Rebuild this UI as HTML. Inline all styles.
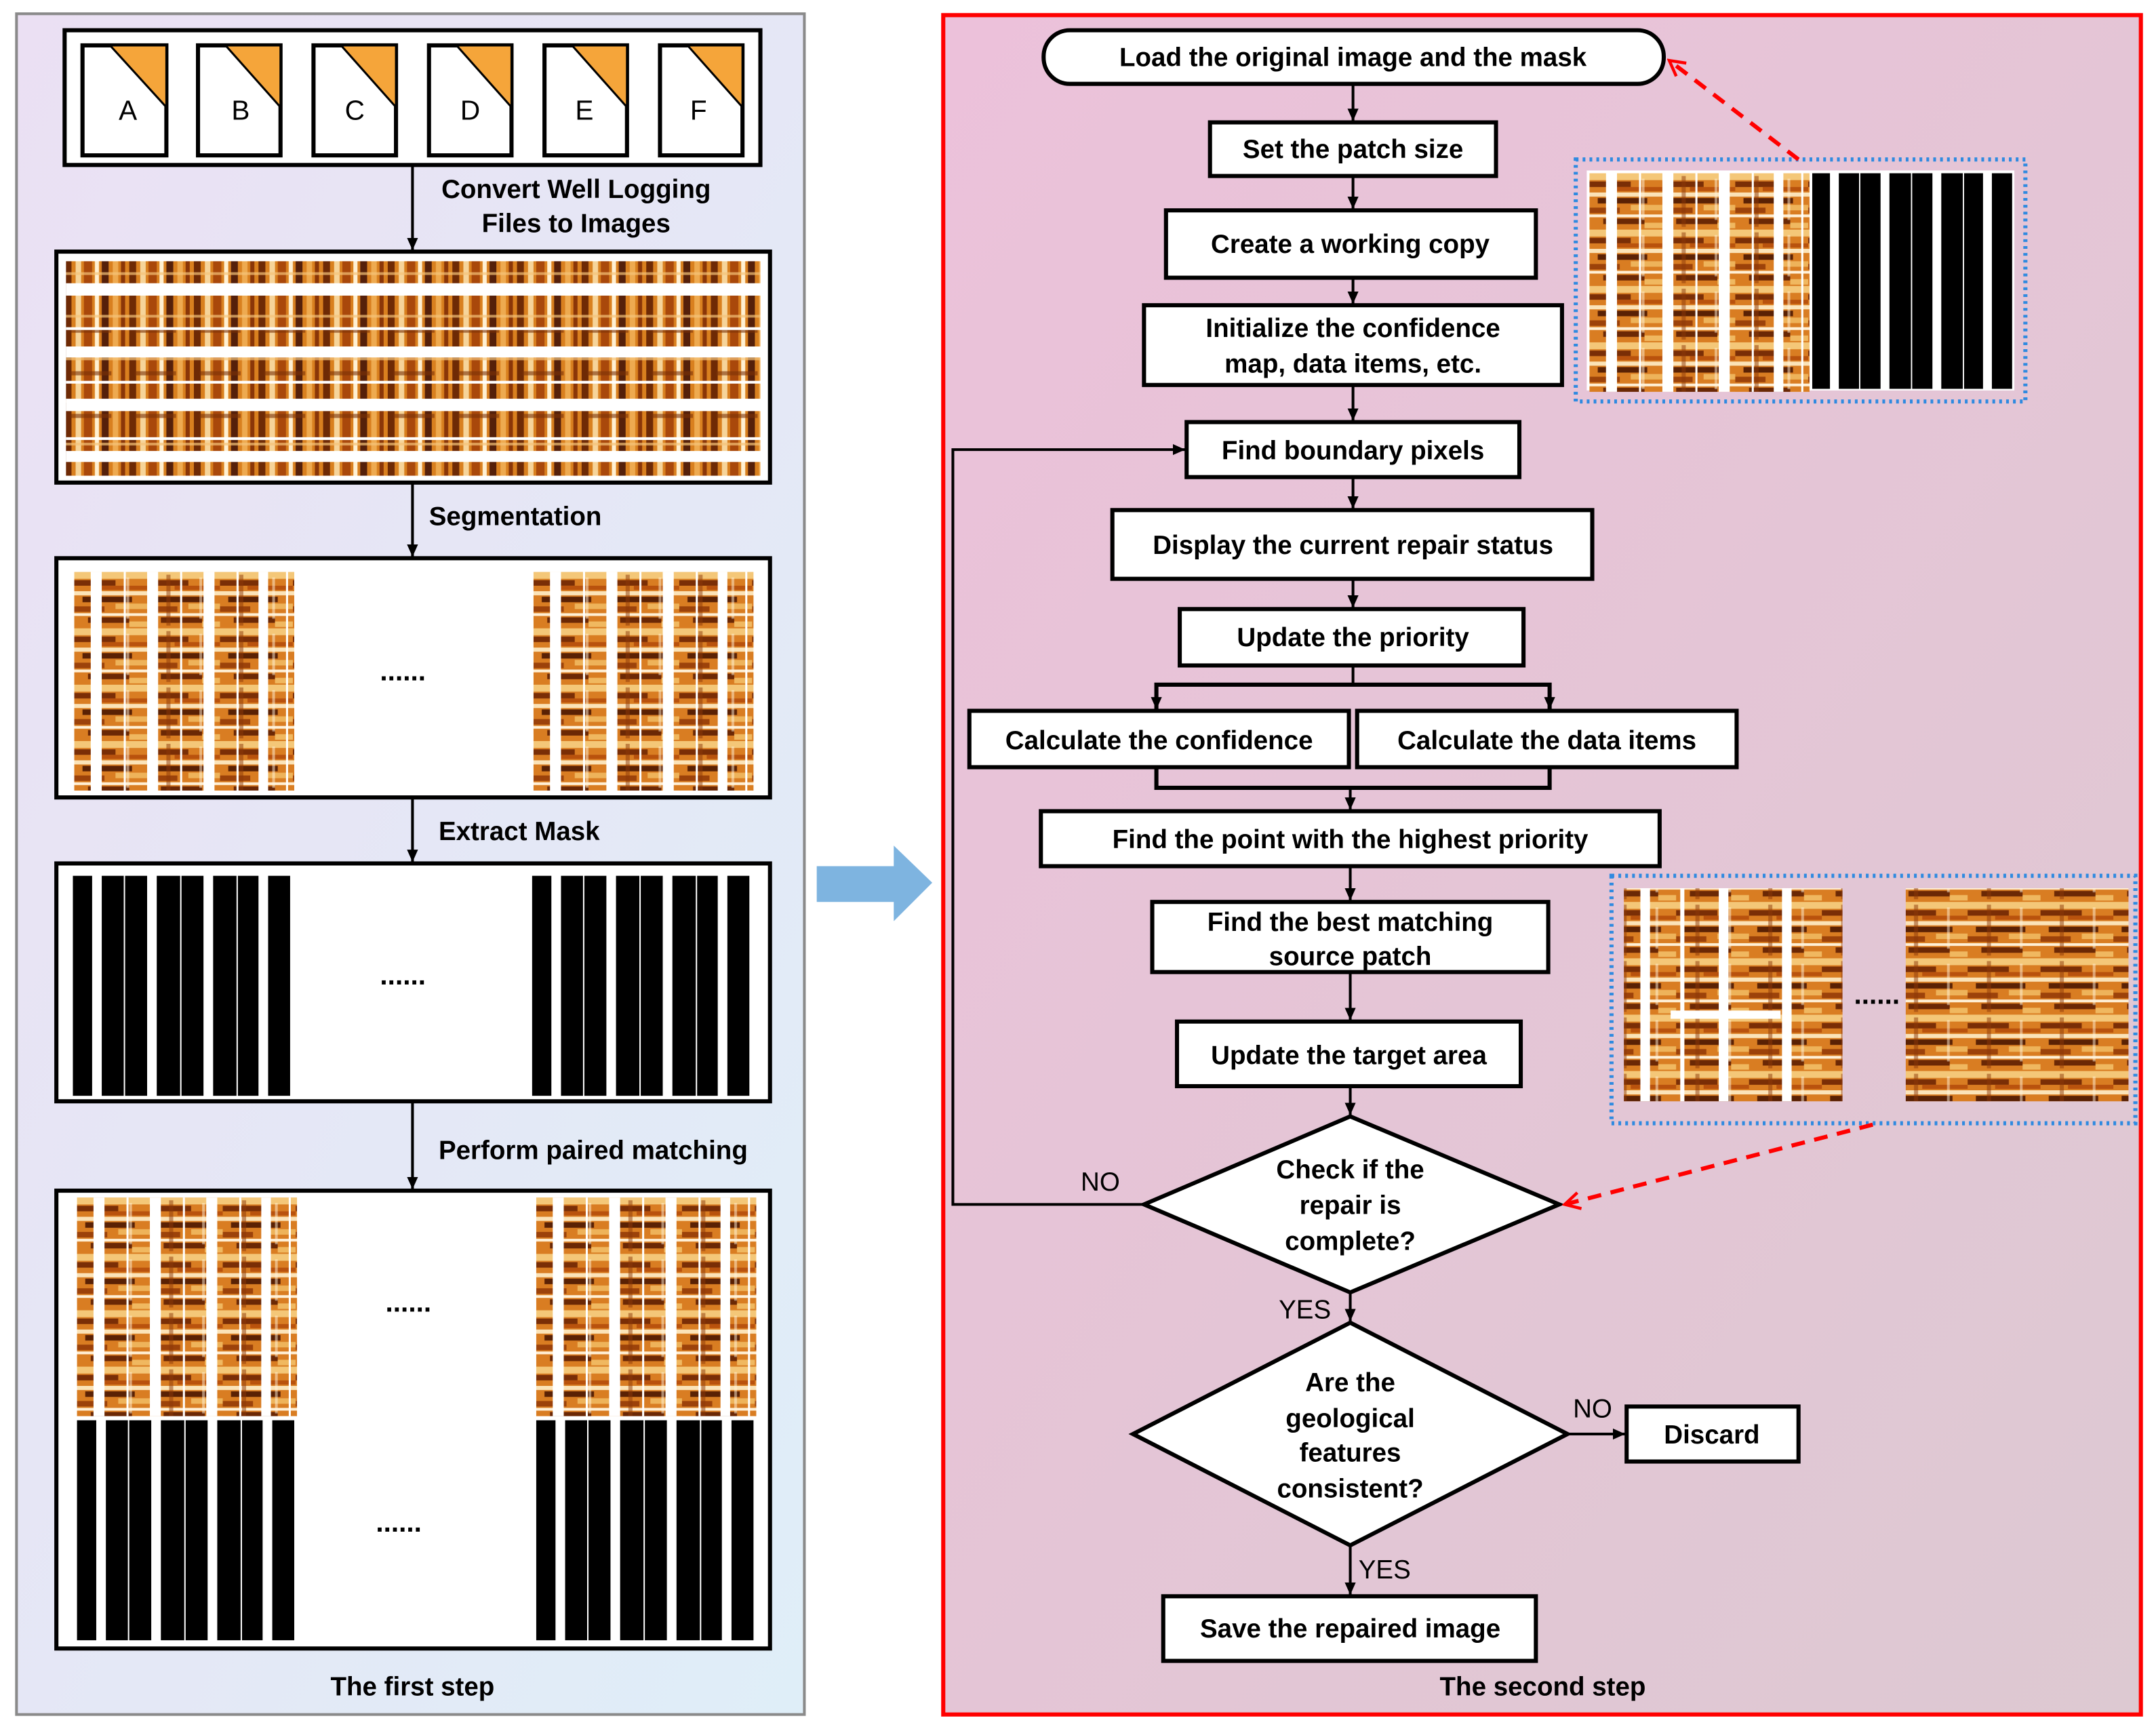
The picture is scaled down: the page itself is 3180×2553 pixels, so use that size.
<!DOCTYPE html>
<html><head><meta charset="utf-8"><style>
html,body{margin:0;padding:0;background:#fff}
svg{display:block}
text{font-family:"Liberation Sans",sans-serif;font-weight:bold;fill:#000}
</style></head><body>
<svg width="3180" height="2553" viewBox="0 0 1568 1259" preserveAspectRatio="none" xmlns="http://www.w3.org/2000/svg">
<defs>
<linearGradient id="gl" x1="0" y1="0" x2="1" y2="1"><stop offset="0" stop-color="#ebe0f3"/><stop offset="1" stop-color="#dfeef8"/></linearGradient>
<linearGradient id="gr" x1="0" y1="0" x2="1" y2="1"><stop offset="0" stop-color="#ecc1da"/><stop offset="1" stop-color="#ddc9d2"/></linearGradient>
<pattern id="tex" width="53" height="41" patternUnits="userSpaceOnUse">
<rect width="53" height="41" fill="#d97d22"/>
<rect x="0" y="0" width="53" height="5" fill="#f4c778"/>
<rect x="0" y="6" width="30" height="4" fill="#7a2e06"/>
<rect x="20" y="10" width="33" height="3" fill="#b9520d"/>
<rect x="0" y="14" width="53" height="3" fill="#fbe3b8"/>
<rect x="6" y="18" width="36" height="4" fill="#5a2104"/>
<rect x="30" y="23" width="23" height="4" fill="#eeb35a"/>
<rect x="0" y="25" width="22" height="4" fill="#9c420a"/>
<rect x="0" y="30" width="53" height="2" fill="#fff0d6"/>
<rect x="10" y="33" width="30" height="4" fill="#6b2805"/>
<rect x="40" y="36" width="13" height="4" fill="#f0b860"/>
<rect x="14" y="2" width="3" height="37" fill="#8c3808" opacity="0.5"/>
<rect x="38" y="4" width="2" height="30" fill="#fff3dc" opacity="0.5"/>
</pattern>
<pattern id="texv" width="47" height="31" patternUnits="userSpaceOnUse">
<rect width="47" height="31" fill="#d9801f"/>
<rect x="0" y="0" width="5" height="31" fill="#6e2a05"/>
<rect x="8" y="0" width="4" height="31" fill="#f6d49a"/>
<rect x="14" y="0" width="6" height="31" fill="#a9480b"/>
<rect x="22" y="0" width="3" height="31" fill="#fff0d2"/>
<rect x="27" y="0" width="5" height="31" fill="#55200a"/>
<rect x="35" y="0" width="4" height="31" fill="#eeaa50"/>
<rect x="41" y="0" width="3" height="31" fill="#8a3608"/>
<rect x="0" y="12" width="47" height="2" fill="#f6c47a" opacity="0.7"/>
<rect x="4" y="22" width="30" height="3" fill="#7a3006" opacity="0.6"/>
</pattern>
<marker id="ah" markerWidth="10" markerHeight="10" refX="9" refY="5" orient="auto" markerUnits="userSpaceOnUse"><path d="M0,1 L9,5 L0,9 Z" fill="#000"/></marker>
<marker id="ar" markerWidth="14" markerHeight="14" refX="12" refY="7" orient="auto" markerUnits="userSpaceOnUse"><path d="M1,1 L12,7 L1,13" fill="none" stroke="#f00" stroke-width="2.2"/></marker>
<g id="seg">
<rect width="160" height="159" fill="url(#tex)"/>
<rect x="12" width="8" height="159" fill="#fff"/><rect x="53" width="8" height="159" fill="#fff"/>
<rect x="94" width="8" height="159" fill="#fff"/><rect x="134" width="7" height="159" fill="#fff"/>
<rect x="36" width="1.5" height="159" fill="#fff"/><rect x="77" width="1.5" height="159" fill="#fff"/><rect x="118" width="1.5" height="159" fill="#fff"/><rect x="154" width="1.5" height="159" fill="#fff"/>
</g>
<g id="msk">
<rect x="0" width="14" height="160" fill="#000"/><rect x="21" width="16" height="160" fill="#000"/><rect x="38" width="16" height="160" fill="#000"/>
<rect x="61" width="17" height="160" fill="#000"/><rect x="79" width="16" height="160" fill="#000"/><rect x="102" width="17" height="160" fill="#000"/>
<rect x="120" width="15" height="160" fill="#000"/><rect x="142" width="16" height="160" fill="#000"/>
</g>
</defs>

<rect x="12" y="10" width="573" height="1237" fill="url(#gl)" stroke="#8a8a8a" stroke-width="2"/>
<rect x="47" y="22" width="506" height="98" fill="#fff" stroke="#000" stroke-width="3"/>
<g stroke="#000" stroke-width="3">
<g transform="translate(60,33)"><rect width="61" height="80" fill="#fff"/><path d="M20,0 L61,0 L61,45 Z" fill="#f5a53a" stroke-width="1.5"/></g>
<g transform="translate(144,33)"><rect width="60" height="80" fill="#fff"/><path d="M20,0 L60,0 L60,45 Z" fill="#f5a53a" stroke-width="1.5"/></g>
<g transform="translate(228,33)"><rect width="60" height="80" fill="#fff"/><path d="M20,0 L60,0 L60,45 Z" fill="#f5a53a" stroke-width="1.5"/></g>
<g transform="translate(312,33)"><rect width="60" height="80" fill="#fff"/><path d="M20,0 L60,0 L60,45 Z" fill="#f5a53a" stroke-width="1.5"/></g>
<g transform="translate(396,33)"><rect width="60" height="80" fill="#fff"/><path d="M20,0 L60,0 L60,45 Z" fill="#f5a53a" stroke-width="1.5"/></g>
<g transform="translate(480,33)"><rect width="60" height="80" fill="#fff"/><path d="M20,0 L60,0 L60,45 Z" fill="#f5a53a" stroke-width="1.5"/></g>
</g>
<g font-size="20" text-anchor="middle">
<text x="93" y="87" style="font-weight:normal">A</text><text x="175" y="87" style="font-weight:normal">B</text><text x="258" y="87" style="font-weight:normal">C</text>
<text x="342" y="87" style="font-weight:normal">D</text><text x="425" y="87" style="font-weight:normal">E</text><text x="508" y="87" style="font-weight:normal">F</text>
</g>
<g stroke="#000" stroke-width="2" fill="none">
<line x1="300" y1="120" x2="300" y2="182" marker-end="url(#ah)"/>
<line x1="300" y1="351" x2="300" y2="405" marker-end="url(#ah)"/>
<line x1="300" y1="580" x2="300" y2="627" marker-end="url(#ah)"/>
<line x1="300" y1="801" x2="300" y2="865" marker-end="url(#ah)"/>
</g>
<g font-size="19">
<text x="419" y="144" text-anchor="middle">Convert Well Logging</text>
<text x="419" y="169" text-anchor="middle">Files to Images</text>
<text x="312" y="382">Segmentation</text>
<text x="319" y="611">Extract Mask</text>
<text x="319" y="843">Perform paired matching</text>
<text x="300" y="1233" text-anchor="middle">The first step</text>
</g>
<rect x="41" y="183" width="519" height="168" fill="#fff" stroke="#000" stroke-width="3"/>
<rect x="48" y="190" width="505" height="156" fill="url(#texv)"/>
<g fill="#fff"><rect x="48" y="206" width="505" height="9"/><rect x="48" y="238" width="505" height="2"/><rect x="48" y="252" width="505" height="8"/><rect x="48" y="277" width="505" height="2"/><rect x="48" y="290" width="505" height="9"/><rect x="48" y="318" width="505" height="2"/><rect x="48" y="328" width="505" height="8"/></g>
<rect x="41" y="406" width="519" height="174" fill="#fff" stroke="#000" stroke-width="3"/>
<use href="#seg" x="54" y="416"/><use href="#seg" x="388" y="416"/>
<text x="293" y="495" font-size="20" text-anchor="middle">......</text>
<rect x="41" y="628" width="519" height="173" fill="#fff" stroke="#000" stroke-width="3"/>
<use href="#msk" x="53" y="637"/><use href="#msk" x="387" y="637"/>
<text x="293" y="716" font-size="20" text-anchor="middle">......</text>
<rect x="41" y="866" width="519" height="333" fill="#fff" stroke="#000" stroke-width="3"/>
<use href="#seg" x="56" y="871"/><use href="#seg" x="390" y="871"/>
<use href="#msk" x="56" y="1033"/><use href="#msk" x="390" y="1033"/>
<text x="297" y="954" font-size="20" text-anchor="middle">......</text>
<text x="290" y="1114" font-size="20" text-anchor="middle">......</text>

<path d="M594,630 L650,630 L650,615 L678,642 L650,670 L650,656 L594,656 Z" fill="#7eb4e0"/>

<rect x="686" y="11" width="871" height="1236" fill="url(#gr)" stroke="#f00" stroke-width="3"/>
<g stroke="#000" stroke-width="3" fill="#fff">
<rect x="759" y="22" width="451" height="39" rx="19"/>
<rect x="880" y="89" width="208" height="39"/>
<rect x="848" y="153" width="269" height="49"/>
<rect x="832" y="222" width="304" height="58"/>
<rect x="863" y="307" width="242" height="40"/>
<rect x="809" y="371" width="349" height="50"/>
<rect x="858" y="443" width="250" height="41"/>
<rect x="705" y="517" width="276" height="41"/>
<rect x="987" y="517" width="276" height="41"/>
<rect x="757" y="590" width="450" height="40"/>
<rect x="838" y="656" width="288" height="51"/>
<rect x="856" y="743" width="250" height="47"/>
<path d="M982,812 L1134,876 L982,940 L832,876 Z"/>
<path d="M982,962 L1140,1043 L982,1124 L824,1043 Z"/>
<rect x="1183" y="1023" width="125" height="40"/>
<rect x="846" y="1161" width="271" height="47"/>
</g>
<g stroke="#000" stroke-width="2" fill="none">
<line x1="984" y1="61" x2="984" y2="88" marker-end="url(#ah)"/>
<line x1="984" y1="128" x2="984" y2="152" marker-end="url(#ah)"/>
<line x1="984" y1="202" x2="984" y2="221" marker-end="url(#ah)"/>
<line x1="984" y1="280" x2="984" y2="306" marker-end="url(#ah)"/>
<line x1="984" y1="347" x2="984" y2="370" marker-end="url(#ah)"/>
<line x1="984" y1="421" x2="984" y2="442" marker-end="url(#ah)"/>
<polyline points="984,484 984,498" />
<polyline points="841,516 841,498 1127,498 1127,516" stroke-width="3"/>
<line x1="841" y1="505" x2="841" y2="516" marker-end="url(#ah)"/>
<line x1="1127" y1="505" x2="1127" y2="516" marker-end="url(#ah)"/>
<polyline points="841,558 841,573 1127,573 1127,558" stroke-width="3"/>
<line x1="982" y1="573" x2="982" y2="589" marker-end="url(#ah)"/>
<line x1="982" y1="630" x2="982" y2="655" marker-end="url(#ah)"/>
<line x1="982" y1="707" x2="982" y2="742" marker-end="url(#ah)"/>
<line x1="982" y1="790" x2="982" y2="811" marker-end="url(#ah)"/>
<polyline points="832,876 693,876 693,327 862,327" marker-end="url(#ah)"/>
<line x1="982" y1="940" x2="982" y2="961" marker-end="url(#ah)"/>
<line x1="1140" y1="1043" x2="1182" y2="1043" marker-end="url(#ah)"/>
<line x1="982" y1="1124" x2="982" y2="1160" marker-end="url(#ah)"/>
</g>
<g font-size="19" text-anchor="middle">
<text x="984" y="48">Load the original image and the mask</text>
<text x="984" y="115">Set the patch size</text>
<text x="982" y="184">Create a working copy</text>
<text x="984" y="245">Initialize the confidence</text>
<text x="984" y="271">map, data items, etc.</text>
<text x="984" y="334">Find boundary pixels</text>
<text x="984" y="403">Display the current repair status</text>
<text x="984" y="470">Update the priority</text>
<text x="843" y="545">Calculate the confidence</text>
<text x="1125" y="545">Calculate the data items</text>
<text x="982" y="617">Find the point with the highest priority</text>
<text x="982" y="677">Find the best matching</text>
<text x="982" y="702">source patch</text>
<text x="981" y="774">Update the target area</text>
<text x="982" y="857">Check if the</text>
<text x="982" y="883">repair is</text>
<text x="982" y="909">complete?</text>
<text x="982" y="1012">Are the</text>
<text x="982" y="1038">geological</text>
<text x="982" y="1063">features</text>
<text x="982" y="1089">consistent?</text>
<text x="1245" y="1050">Discard</text>
<text x="982" y="1191">Save the repaired image</text>
<text x="1122" y="1233">The second step</text>
</g>
<g font-size="19">
<text x="786" y="866" style="font-weight:normal">NO</text>
<text x="930" y="959" style="font-weight:normal">YES</text>
<text x="1144" y="1031" style="font-weight:normal">NO</text>
<text x="988" y="1148" style="font-weight:normal">YES</text>
</g>
<rect x="1146" y="116" width="327" height="176" fill="none" stroke="#2f8ae0" stroke-width="3" stroke-dasharray="2,3"/>
<rect x="1154" y="124" width="311" height="160" fill="#fff"/>
<use href="#seg" x="1156" y="126"/>
<g transform="translate(1318,126) scale(0.92,0.98)"><use href="#msk"/></g>
<rect x="1172" y="637" width="381" height="180" fill="none" stroke="#2f8ae0" stroke-width="3" stroke-dasharray="2,3"/>
<rect x="1181" y="646" width="159" height="155" fill="url(#tex)"/>
<g fill="#fff"><rect x="1193" y="646" width="7" height="155"/><rect x="1222" y="646" width="3" height="155"/><rect x="1250" y="646" width="7" height="155"/><rect x="1296" y="646" width="7" height="155"/><rect x="1215" y="735" width="80" height="6"/></g>
<text x="1365" y="730" font-size="20" text-anchor="middle">......</text>
<rect x="1386" y="646" width="162" height="155" fill="url(#tex)"/>
<g fill="none" stroke="#f00" stroke-width="3" stroke-dasharray="10,7">
<line x1="1308" y1="116" x2="1214" y2="44" marker-end="url(#ar)"/>
<line x1="1362" y1="818" x2="1138" y2="876" marker-end="url(#ar)"/>
</g>
</svg>
</body></html>
